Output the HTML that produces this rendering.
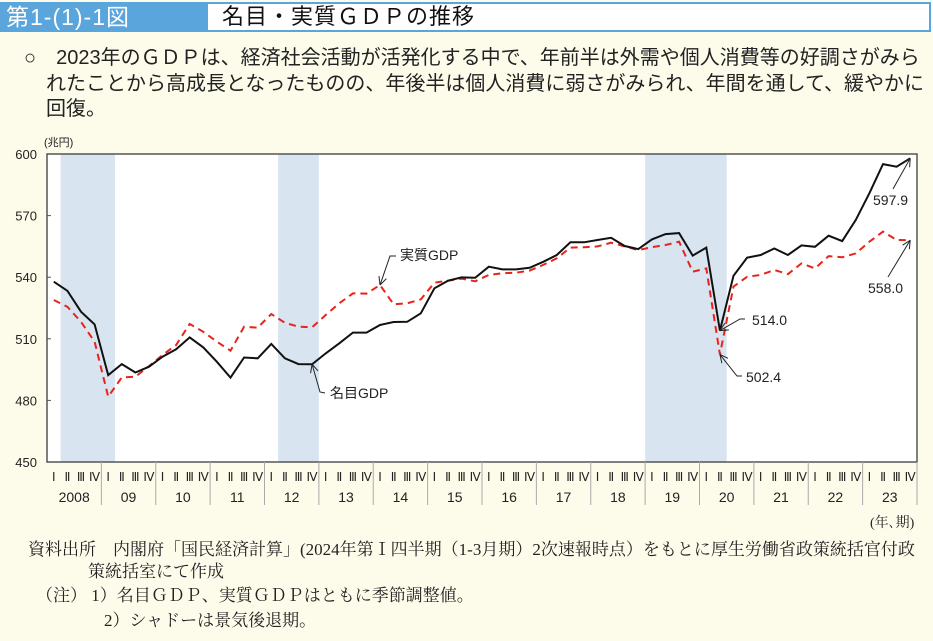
<!DOCTYPE html>
<html><head><meta charset="utf-8">
<style>
body{margin:0;width:933px;height:641px;background:#fdfbea;font-family:"Liberation Sans","Noto Sans CJK JP",sans-serif;overflow:hidden;position:relative}
.hdr{position:absolute;left:0;top:2px;width:933px;height:30px}
.hl{position:absolute;left:0;top:0;width:208px;height:30px;background:#5aa5dc;color:#fff;font-size:23px;line-height:30px;padding-left:6px;box-sizing:border-box;letter-spacing:1px}
.hr{position:absolute;left:208px;top:0;right:2px;height:30px;background:#fff;border:2px solid #5aa5dc;border-left:none;box-sizing:border-box;font-size:22px;line-height:26px;padding-left:14px;color:#111;letter-spacing:1px}
.lead{position:absolute;left:24px;top:46px;width:910px;font-size:20px;line-height:25.5px;color:#222;white-space:nowrap}
.note{position:absolute;font-family:"Liberation Serif","Noto Serif CJK SC",serif;font-size:17px;color:#222;white-space:nowrap}
</style></head><body>
<div class="hdr">
<div class="hl">第1-(1)-1図</div>
<div class="hr">名目・実質ＧＤＰの推移</div>
</div>
<div class="lead">○　2023年のＧＤＰは、経済社会活動が活発化する中で、年前半は外需や個人消費等の好調さがみら<br><span style="padding-left:22px">れたことから高成長となったものの、年後半は個人消費に弱さがみられ、年間を通して、緩やかに</span><br><span style="padding-left:22px">回復。</span></div>
<svg id="chart" width="933" height="641" style="position:absolute;left:0;top:0"></svg>
<div class="note" style="left:870px;top:512px;font-size:14px">(年､期)</div>
<div class="note" style="left:28px;top:539px;line-height:22px">資料出所　内閣府「国民経済計算」(2024年第Ⅰ四半期（1-3月期）2次速報時点）をもとに厚生労働省政策統括官付政<br><span style="padding-left:60px">策統括室にて作成</span></div>
<div class="note" style="left:36px;top:583px;line-height:25px">（注）  1）名目ＧＤＰ、実質ＧＤＰはともに季節調整値。<br><span style="padding-left:68px">2）シャドーは景気後退期。</span></div>
<script>
const years=["2008","09","10","11","12","13","14","15","16","17","18","19","20","21","22","23"];
const quarters=["Ⅰ","Ⅱ","Ⅲ","Ⅳ"];
const yTicks=[450,480,510,540,570,600];
const nominal=[537.8,533.4,523.2,517,492.3,497.7,493.6,496.4,501.3,504.9,510.7,505.8,498.8,491.1,500.9,500.5,507.5,500.5,497.7,497.6,502.9,507.8,513,513,516.7,518.2,518.3,522.4,534.6,538.3,539.9,539.7,545.1,543.8,543.8,544.6,547.5,550.8,557,557,558.1,559.2,555.2,553.7,558.4,561,561.5,550.5,554.4,514.0,540.7,549.5,550.8,554,550.8,555.5,554.8,560.2,557.6,567.9,580.9,595.1,593.8,597.9];
const real=[528.9,525.6,518.3,508.6,481.8,491.2,491.5,496.7,502.1,507,517.2,513.4,508.6,504.2,515.9,515.4,522.1,517.8,515.9,515.6,521.6,527.3,532.1,532,536.2,526.8,527.3,529.2,537.3,538.3,539.3,538,541.1,541.9,542.2,543.2,546,549.2,554.4,554.6,555,556.8,555,553.2,554.6,555.7,557.3,542.7,544.3,502.4,535.4,540.2,541.1,543.5,541.5,546.7,544.3,550.3,549.7,551.6,557.3,562.2,558.1,558.0];
const shades=[[1,5],[17,20],[44,50]];
const L=47,R=917,T=154,B=462,N=64;
const qw=(R-L)/N;
const xq=i=>L+(i+0.5)*qw, xe=i=>L+i*qw;
const y=v=>B-(v-450)/(600-450)*(B-T);
const svg=document.getElementById('chart');
const NS="http://www.w3.org/2000/svg";
function mk(t,a,txt){const e=document.createElementNS(NS,t);for(const k in a)e.setAttribute(k,a[k]);if(txt!==undefined)e.textContent=txt;svg.appendChild(e);return e;}
let e=mk('rect',{x:L,y:T,width:R-L,height:B-T,fill:'#fff'});

shades.forEach(s=>{const r=mk('rect',{x:xe(s[0]),y:T,width:xe(s[1])-xe(s[0]),height:B-T,fill:'#d8e5f1'});

});
e=mk('rect',{x:L,y:T,width:R-L,height:B-T,fill:'none',stroke:'#555','stroke-width':1.5});

yTicks.forEach(v=>{mk('line',{x1:L,x2:L+4,y1:y(v),y2:y(v),stroke:'#555'});
const t=mk('text',{x:L-10,y:y(v)+5,'text-anchor':'end','font-size':13,fill:'#222'},v);

});
e=mk('text',{x:44,y:146,'font-size':11,fill:'#222','text-anchor':'start'},'(兆円)');

for(let i=0;i<N;i++){const t=mk('text',{x:xq(i),y:481,'font-size':12,'text-anchor':'middle',fill:'#222','font-family':'Liberation Serif, serif'},quarters[i%4]);

}
years.forEach((yr,k)=>{if(k>0)mk('line',{x1:xe(k*4),x2:xe(k*4),y1:B,y2:505,stroke:'#aaa'});
const t=mk('text',{x:xe(k*4)+2*qw,y:502,'font-size':14,'text-anchor':'middle',fill:'#222'},yr);

});
mk('line',{x1:R,x2:R,y1:B,y2:505,stroke:'#aaa'});
const pts=a=>a.map((v,i)=>xq(i).toFixed(1)+','+y(v).toFixed(1)).join(' ');
e=mk('polyline',{points:pts(real),fill:'none',stroke:'#e8231b','stroke-width':2,'stroke-dasharray':'7,5'});

e=mk('polyline',{points:pts(nominal),fill:'none',stroke:'#111','stroke-width':2});

function ann(name,i,v,tx,ty,label,path){const px=xq(i),py=y(v);
mk('polyline',{points:path.map(p=>p.join(',')).join(' ')+' '+px+','+py,fill:'none',stroke:'#222','stroke-width':1});
const ang=Math.atan2(py-path[path.length-1][1],px-path[path.length-1][0]);
[0.45,-0.45].forEach(d=>mk('line',{x1:px,y1:py,x2:px-9*Math.cos(ang+d),y2:py-9*Math.sin(ang+d),stroke:'#222'}));
const t=mk('text',{x:tx,y:ty,'font-size':label.length>5?12:14,fill:'#222'},label);

}
ann('real-gdp-label',24,real[24],400,260,'実質GDP',[[396,256],[390,256]]);
ann('nominal-gdp-label',19,nominal[19],330,398,'名目GDP',[[325,393],[320,392]]);
ann('nominal-2020q2-label',49,nominal[49],752,325,'514.0',[[745,319],[740,319]]);
ann('real-2020q2-label',49,real[49],746,382,'502.4',[[742,376],[737,376]]);
ann('nominal-2023q4-label',63,nominal[63],873,205,'597.9',[[893,189]]);
ann('real-2023q4-label',63,real[63],868,293,'558.0',[[888,277]]);
</script>
</body></html>
